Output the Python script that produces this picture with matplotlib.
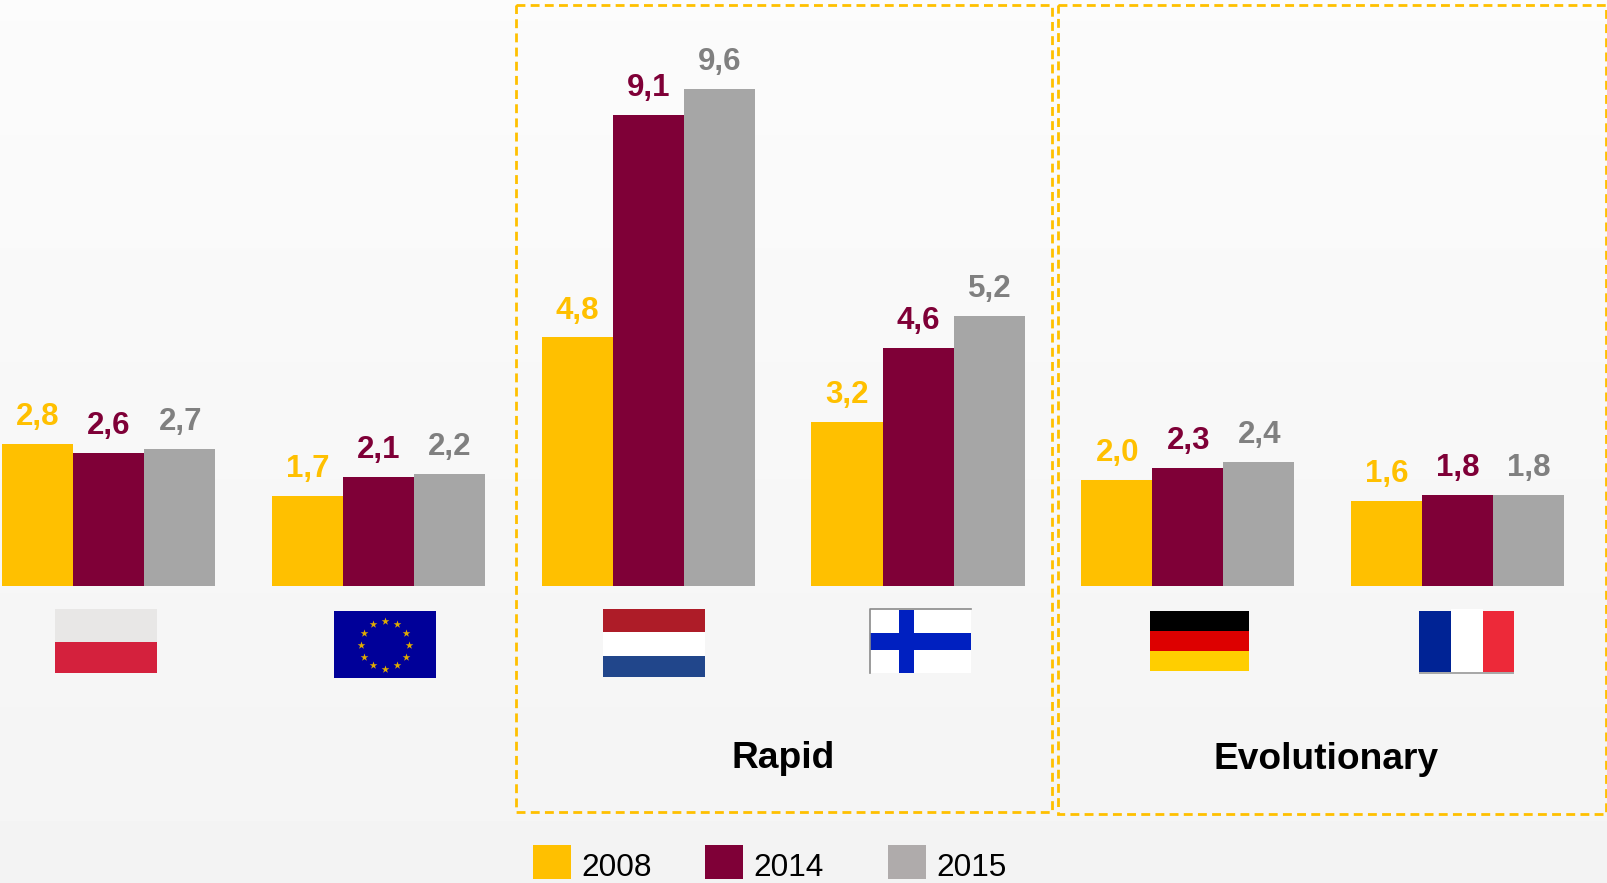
import numpy as np
import matplotlib
matplotlib.use("Agg")
import matplotlib.pyplot as plt
from matplotlib.patches import Rectangle

plt.rcParams['font.family'] = ['Liberation Sans', 'DejaVu Sans']

# --- data ---
countries = ["Poland", "EU", "Netherlands", "Finland", "Germany", "France"]
years = ["2008", "2014", "2015"]
v2008 = [2.74, 1.73, 4.80, 3.17, 2.04, 1.63]
v2014 = [2.56, 2.10, 9.10, 4.60, 2.28, 1.75]
v2015 = [2.65, 2.16, 9.60, 5.22, 2.39, 1.76]
l2008 = ["2,8", "1,7", "4,8", "3,2", "2,0", "1,6"]
l2014 = ["2,6", "2,1", "9,1", "4,6", "2,3", "1,8"]
l2015 = ["2,7", "2,2", "9,6", "5,2", "2,4", "1,8"]
group_titles = ["Rapid", "Evolutionary"]

# --- styles ---
W, H = 1608, 883
YEL, MAR, GRY = "#FFC000", "#7F0037", "#A6A6A6"
GRY_TXT = "#808080"
LEG_GRY = "#AFABAB"
BASE_PX, PX_PER_UNIT = 585.6, 51.7
BAR_W, STEP, FIRST = 71.1, 269.8, 2.0

fig = plt.figure(figsize=(W / 100, H / 100), dpi=100)

# background gradient
bg = fig.add_axes([0, 0, 1, 1], zorder=0)
bg.axis("off")
grad = np.linspace(0.985, 0.955, 256).reshape(-1, 1)
bg.imshow(grad, cmap="gray", vmin=0, vmax=1, aspect="auto", extent=[0, W, H, 0])
bg.set_xlim(0, W)
bg.set_ylim(H, 0)

# bars
ax = fig.add_axes([0, 0, 1, 1], zorder=1)
ax.patch.set_alpha(0)
ax.axis("off")
ax.set_xlim(0, W)
ax.set_ylim(-(H - BASE_PX) / PX_PER_UNIT, BASE_PX / PX_PER_UNIT)
idx = np.arange(len(countries))
series = [(v2008, l2008, YEL, YEL), (v2014, l2014, MAR, MAR), (v2015, l2015, GRY, GRY_TXT)]
for k, (vals, labs, col, tcol) in enumerate(series):
    xs = FIRST + idx * STEP + k * BAR_W
    ax.bar(xs, vals, width=BAR_W, align="edge", color=col, linewidth=0)
    for x, v, t in zip(xs, vals, labs):
        ax.annotate(t, (x + BAR_W / 2, v), xytext=(0.3, 13.6), textcoords="offset points",
                    ha="center", va="baseline", fontsize=22.5, fontweight="bold", color=tcol)

# overlay in pixel coordinates
ov = fig.add_axes([0, 0, 1, 1], zorder=2)
ov.patch.set_alpha(0)
ov.axis("off")
ov.set_xlim(0, W)
ov.set_ylim(H, 0)


def rect(x0, y0, x1, y1, c, **kw):
    ov.add_patch(Rectangle((x0, y0), x1 - x0, y1 - y0, facecolor=c, edgecolor="none", **kw))


# Poland
rect(55.4, 609, 157, 642, "#E8E7E6")
rect(55.4, 642, 157, 673, "#D4213D")
# EU
rect(334.5, 611, 436, 678, "#000099")
a = np.deg2rad(np.arange(0, 360, 30))
ov.scatter(385 + 24 * np.cos(a), 644.5 + 24 * np.sin(a), s=34, marker="*", color="#E0AC00", linewidths=0)
# Netherlands
rect(603, 609, 705, 632, "#AE1C28")
rect(603, 632, 705, 655.5, "#FFFFFF")
rect(603, 655.5, 705, 677, "#21468B")
# Finland
rect(870, 609, 971, 673, "#FFFFFF")
ov.plot([870, 870, 971], [673, 609, 609], color="#8A8A8A", lw=1.2)
rect(899, 610, 914, 673, "#0020C0")
rect(870, 633, 971, 650, "#0020C0")
# Germany
rect(1150, 611, 1249, 631, "#000000")
rect(1150, 631, 1249, 650.5, "#DD0000")
rect(1150, 650.5, 1249, 671, "#FFCE00")
# France
rect(1419.5, 611, 1451, 672, "#002395")
rect(1451, 609, 1483, 672, "#FFFFFF")
rect(1483, 611, 1514.5, 672, "#ED2939")
rect(1419.5, 672, 1514.5, 674, "#A8A8A8")

# dashed frames
for (x0, y0, x1, y1) in [(516.5, 5, 1052.5, 812), (1058.5, 5, 1606.5, 814)]:
    ov.add_patch(Rectangle((x0, y0), x1 - x0, y1 - y0, fill=False, edgecolor=YEL, lw=2.0,
                           linestyle=(0, (3.2, 1.9))))

# group titles
ov.text(783.5, 768, group_titles[0], fontsize=26.7, fontweight="bold", ha="center", va="baseline", color="black")
ov.text(1326, 769, group_titles[1], fontsize=26.7, fontweight="bold", ha="center", va="baseline", color="black")

# legend
for (x0, xt, c, t) in zip([533, 705.5, 888], [581, 753.5, 936.5], [YEL, MAR, LEG_GRY], years):
    rect(x0, 845, x0 + 38, 879, c)
    ov.text(xt, 876.5, t, fontsize=22.8, ha="left", va="baseline", color="black")

fig.savefig("out.png", dpi=100)
